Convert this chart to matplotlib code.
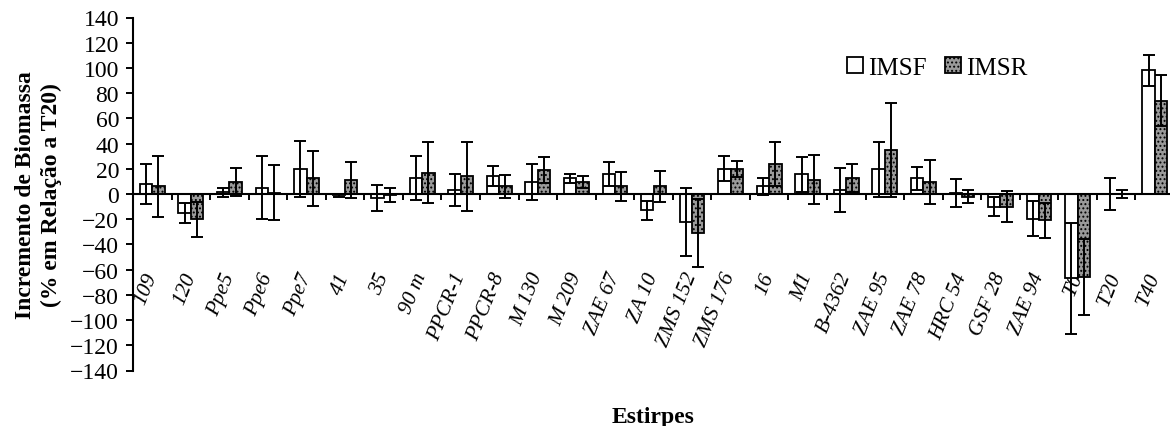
import numpy as np
import matplotlib as mpl
mpl.use('Agg')
import matplotlib.pyplot as plt
from matplotlib.patches import Patch

mpl.rcParams['font.family'] = ['Liberation Serif', 'DejaVu Serif']
mpl.rcParams['hatch.linewidth'] = 0.9

# strains and biomass increment (% relative to T20), mean and std dev
estirpes = ['109', '120', 'Ppe5', 'Ppe6', 'Ppe7', '41', '35', '90 m', 'PPCR-1',
            'PPCR-8', 'M 130', 'M 209', 'ZAE 67', 'ZA 10', 'ZMS 152', 'ZMS 176',
            '16', 'M1', 'B-4362', 'ZAE 95', 'ZAE 78', 'HRC 54', 'GSF 28',
            'ZAE 94', 'T0', 'T20', 'T40']

imsf = [8, -15, 1.5, 5, 20, -1, -3, 12.5, 3, 14, 9.5, 12.5, 16, -13, -22, 20,
        6, 15.5, 3, 19.5, 12.5, 1, -10, -19.5, -67, 0, 98]
imsf_sd = [16, 8, 3.5, 25, 22, 1, 10.5, 17.5, 12.5, 8, 14, 3.5, 9.5, 7.5, 27, 10,
           6.5, 14, 17.5, 21.5, 9, 11, 7.5, 14, 44, 12.5, 12.5]

imsr = [6, -20, 9.5, 1, 12.5, 11, -1, 17, 14, 6, 19, 9.5, 6, 6, -31, 20,
        23.5, 11.5, 12.5, 35, 9.5, -2, -10, -21, -66, 0, 74]
imsr_sd = [24, 14, 11, 22, 22, 14.5, 5.5, 24.5, 27.5, 9, 10.5, 4.5, 11.5, 12.5, 27, 6.5,
           17.5, 19.5, 11, 37, 17.5, 5.5, 12, 14, 30, 3.5, 20]

W, H = 1170, 427
fig = plt.figure(figsize=(W / 100, H / 100), dpi=100)
ax = fig.add_axes([133 / W, 1 - 371.5 / H, 1041 / W, 353 / H])

x = np.arange(len(estirpes))
bw = 0.32
grey = '#9a9a9a'

ax.bar(x - bw / 2, imsf, bw, color='white', edgecolor='black', linewidth=1.3,
       zorder=3, label='IMSF')
ax.bar(x + bw / 2, imsr, bw, color=grey, edgecolor='black', linewidth=1.3,
       hatch='....', zorder=3, label='IMSR')

eb = dict(fmt='none', ecolor='black', elinewidth=1.4, capsize=4.5, capthick=1.4, zorder=4)
ax.errorbar(x - bw / 2, imsf, yerr=imsf_sd, **eb)
ax.errorbar(x + bw / 2, imsr, yerr=imsr_sd, **eb)

ax.set_xlim(-0.5, len(estirpes) - 0.5)
ax.set_ylim(-140, 140)
ax.set_yticks(np.arange(-140, 141, 20))

for s in ['top', 'right']:
    ax.spines[s].set_visible(False)
ax.spines['bottom'].set_position(('data', 0))
ax.spines['bottom'].set_zorder(5)
ax.spines['left'].set_linewidth(1.5)
ax.spines['bottom'].set_linewidth(1.5)

# category labels hang well below the zero line, ticks sit between groups
ax.set_xticks(x)
ax.set_xticks(np.arange(-0.5, len(estirpes)), minor=True)
ax.set_xticklabels(estirpes, rotation=68, rotation_mode='anchor', ha='right',
                   va='center', fontstyle='italic', fontsize=15.5)
ax.tick_params(axis='x', which='major', length=0, pad=57)
ax.tick_params(axis='x', which='minor', length=4, width=1.4, direction='out')
ax.tick_params(axis='y', length=5, width=1.4, direction='out', labelsize=17, pad=5)

ax.set_ylabel('Incremento de Biomassa\n(% em Relação a T20)', fontsize=17,
              fontweight='bold', linespacing=1.3)
ax.yaxis.set_label_coords(-0.068, 0.5)
ax.set_xlabel('Estirpes', fontsize=17, fontweight='bold')
ax.xaxis.set_label_coords(0.5, -0.1)

handles = [Patch(facecolor='white', edgecolor='black', linewidth=1.3),
           Patch(facecolor=grey, edgecolor='black', linewidth=1.3, hatch='....')]
ax.legend(handles, ['IMSF', 'IMSR'], loc='center left', bbox_to_anchor=(0.674, 0.858),
          ncol=2, frameon=False, fontsize=18, handlelength=0.65, handleheight=0.65,
          handletextpad=0.2, columnspacing=0.7, borderpad=0)

fig.savefig('out.png', dpi=100)
